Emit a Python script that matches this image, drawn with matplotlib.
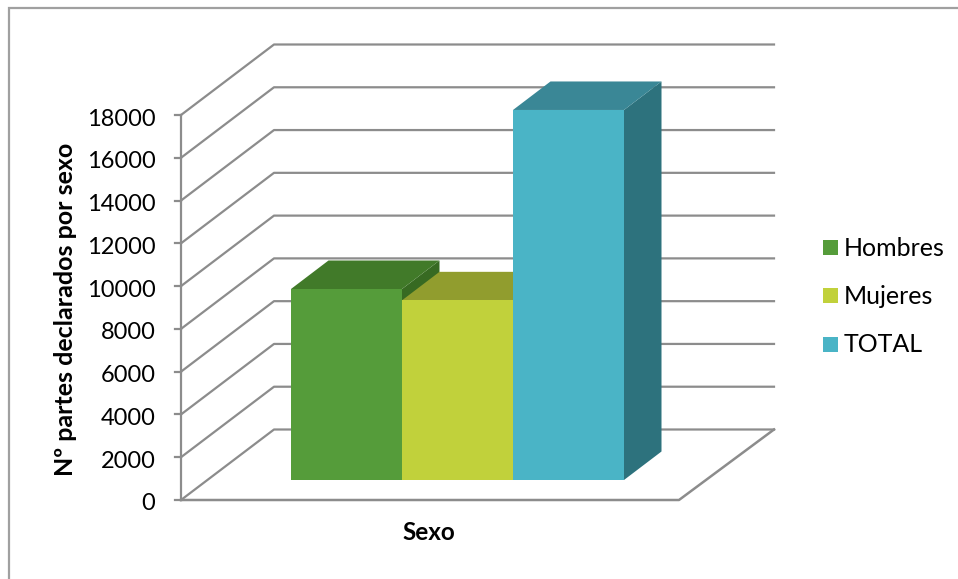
import matplotlib
matplotlib.use('Agg')
import matplotlib.pyplot as plt
from matplotlib.patches import Polygon, Rectangle

plt.rcParams['font.family']=['Lato','DejaVu Sans']

categories=['Hombres','Mujeres','TOTAL']
values=[8930,8400,17300]
colors_front=['#559C3A','#C1D13B','#4AB4C6']
colors_top=['#417A29','#919D2E','#3A8796']
colors_side=['#376A22','#7F8A28','#2D727D']
yticks=[0,2000,4000,6000,8000,10000,12000,14000,16000,18000]
ylabel='Nº partes declarados por sexo'
xlabel='Sexo'

W,H=958,579
# pixel layout of the projected box
x0_px,y0_px=181,500     # front corner of the value axis
px_per_unit=(500-115)/18000
back_dx,back_dy=93,70.5 # wall offset from the front axis
floor_w=498
bar_left,bar_w=291,111
bar_lift=20             # bars stand this far up the floor
bar_dx,bar_dy=37.5,28.5 # bar depth
grey='#8C8C8C'

fig=plt.figure(figsize=(W/100,H/100),dpi=100)
ax=fig.add_axes([0,0,1,1])
ax.set_xlim(0,W)
ax.set_ylim(-(H-y0_px)/px_per_unit,y0_px/px_per_unit)
ax.axis('off')
dy_back=back_dy/px_per_unit
d_bar=bar_dy/px_per_unit
lift=bar_lift/px_per_unit

# chart frame, only top and left show in the crop
ax.plot([9,9,W],[ax.get_ylim()[0],(y0_px-8)/px_per_unit,(y0_px-8)/px_per_unit],color='#A0A0A0',lw=1.6,solid_joinstyle='miter')

# walls
x_back=x0_px+back_dx
for v in yticks:
  ax.plot([x0_px,x_back,x_back+500],[v,v+dy_back,v+dy_back],color=grey,lw=1.6,solid_joinstyle='round',zorder=1)
  ax.plot([x0_px-6,x0_px],[v,v],color=grey,lw=1.6,zorder=1)
  ax.text(x0_px-25.5,v-4/px_per_unit,str(v),ha='right',va='center',fontsize=17,color='black')
ax.plot([x0_px,x0_px],[0,18000],color=grey,lw=1.6,zorder=1)
# floor
ax.plot([x0_px,x0_px+floor_w,x_back+500],[0,0,dy_back],color=grey,lw=1.8,zorder=1)

# bars, back to front order is left to right overlap of the tops
for i,(val,cf,ct,cs) in enumerate(zip(values,colors_front,colors_top,colors_side)):
  xl=bar_left+i*bar_w
  xr=xl+bar_w
  z=2+i
  top=lift+val
  ax.add_patch(Polygon([(xr,lift),(xr+bar_dx,lift+d_bar),(xr+bar_dx,top+d_bar),(xr,top)],fc=cs,ec='none',zorder=z))
  ax.add_patch(Polygon([(xl,top),(xl+bar_dx,top+d_bar),(xr+bar_dx,top+d_bar),(xr,top)],fc=ct,ec='none',zorder=z))
  ax.add_patch(Rectangle((xl,lift),bar_w,val,fc=cf,ec='none',zorder=z+0.5))

# axis titles
ax.text(429,(y0_px-532)/px_per_unit,xlabel,ha='center',va='center',fontsize=17.5,fontweight='bold')
ax.text(66,(y0_px-309)/px_per_unit,ylabel,ha='center',va='center',rotation=90,fontsize=18,fontweight='bold')

# legend
for name,c,yl in zip(categories,colors_front,[247.5,295.5,344.5]):
  ax.add_patch(Rectangle((823,(y0_px-yl-7.5)/px_per_unit),15,15/px_per_unit,fc=c,ec='none'))
  ax.text(844,(y0_px-yl-0.5)/px_per_unit,name,ha='left',va='center',fontsize=18,color='black')

fig.savefig('out.png',dpi=100)
